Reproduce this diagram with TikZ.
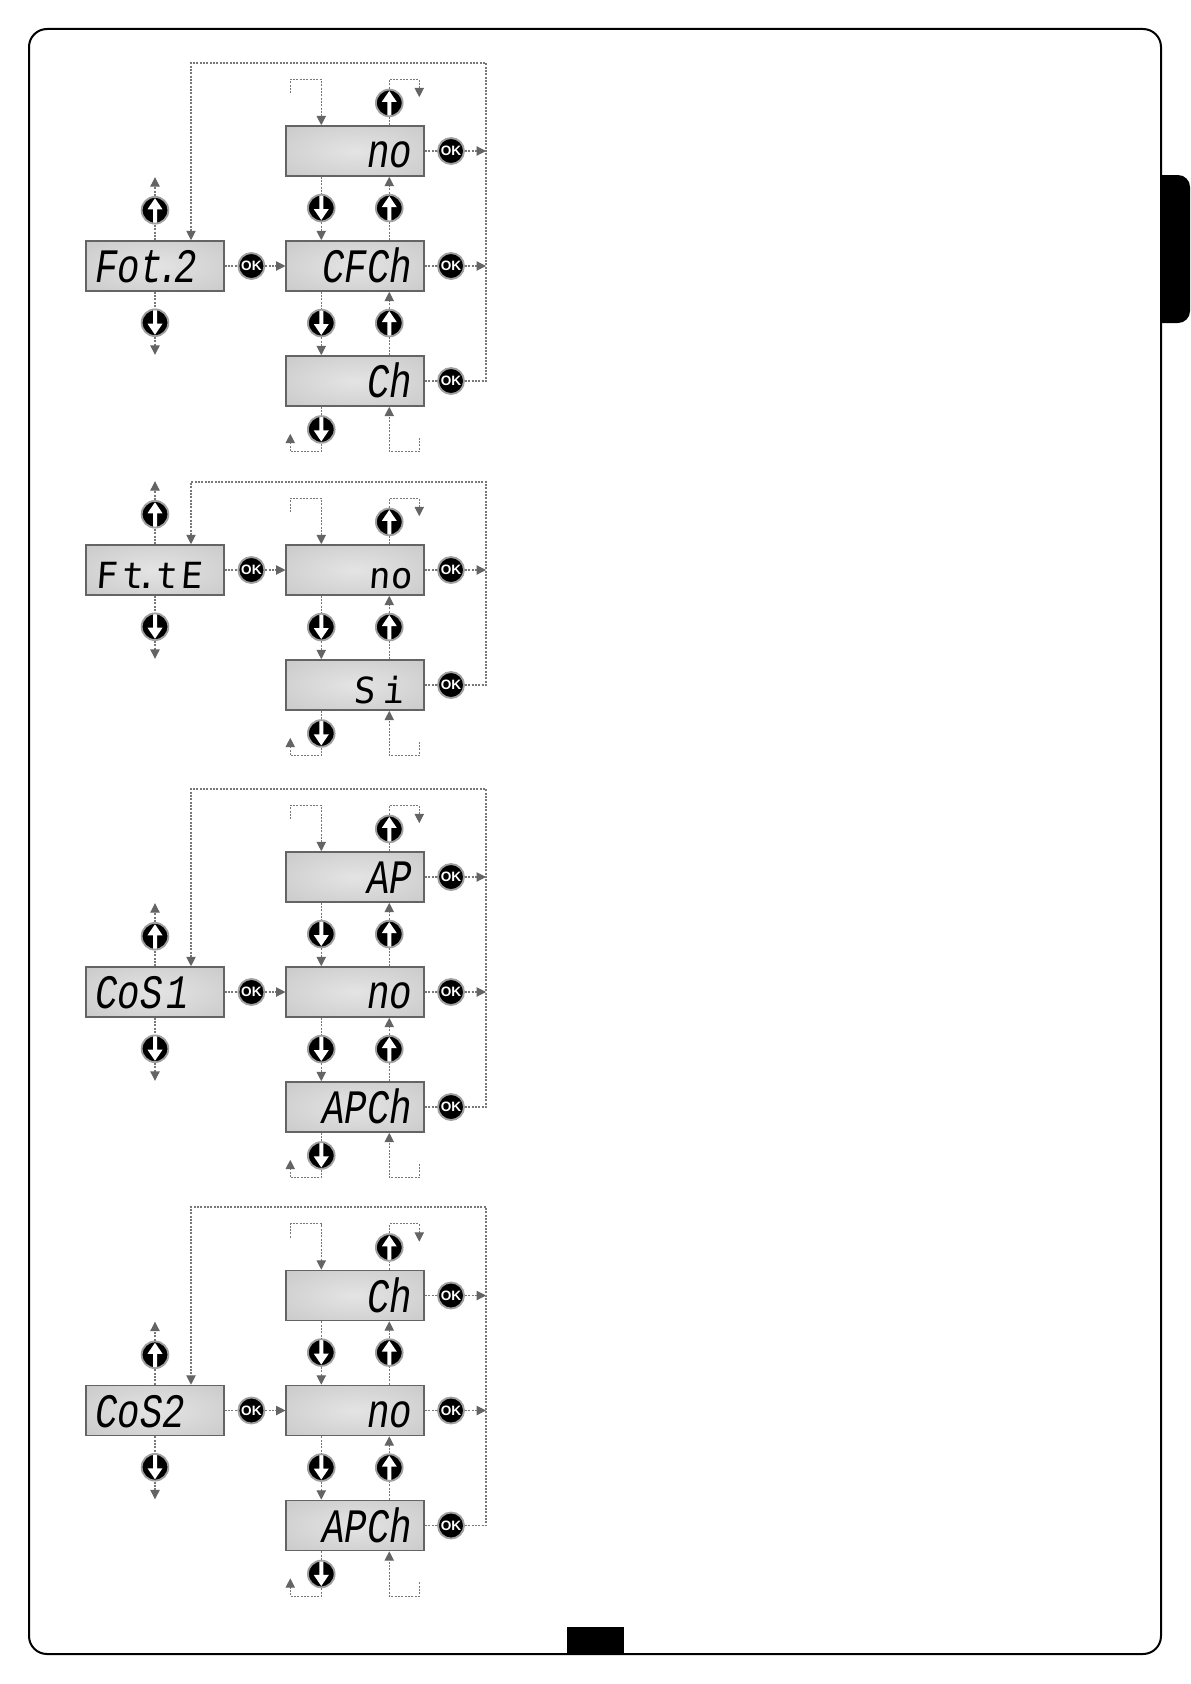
\documentclass[tikz,border=0pt]{standalone}
\usepackage{fontspec}
\setmainfont{Liberation Sans}
\newfontfamily\lcdfont{Liberation Mono}[FakeStretch=0.78]
\newfontfamily\lcdwidefont{DejaVu Sans Mono}[FakeSlant=0.08]
\usetikzlibrary{arrows.meta,positioning}
\definecolor{lcdlight}{RGB}{228,228,228}
\definecolor{lcddark}{RGB}{192,192,192}
\definecolor{lcdedge}{RGB}{100,100,100}
\definecolor{flowgray}{RGB}{120,120,120}
\definecolor{tipgray}{RGB}{100,100,100}
\definecolor{ringgray}{RGB}{160,160,160}
\pgfdeclareradialshading{lcdshade}{\pgfpoint{0bp}{0bp}}{color(0bp)=(lcdlight); color(50bp)=(lcddark); color(100bp)=(lcddark)}
\newcommand{\lcdface}{\lcdfont\itshape\fontsize{36}{36}\selectfont}
\newcommand{\lcdwide}[1]{\raisebox{-1.5pt}{\lcdwidefont\upshape\fontsize{27}{27}\selectfont #1}}
% left box with its up and down keys
\newcommand{\paramhead}[3]{
  \node[parbox] (#1) at (155,#2) {#3};
  \node[upbtn, above=11.75pt of #1] (#1up) {};
  \node[dnbtn, below=12.5pt of #1] (#1dn) {};
  \coordinate (#1upend) at ([shift={(0,-63)}]#1.north);
  \coordinate (#1dnend) at ([shift={(0,63)}]#1.south);
  \draw[flow] (#1) -- (#1up);
  \draw[flow] (#1) -- (#1dn);
  \draw[flowtip] (#1up) -- (#1upend);
  \draw[flowtip] (#1dn) -- (#1dnend);
  \node[okbtn, right=9.5pt of #1] (#1ok) {OK};
  \draw[flow] (#1) -- (#1ok);
}
% OK key right of a value box
\newcommand{\okrow}[1]{
  \node[okbtn, right=9pt of #1] (#1ok) {OK};
  \draw[flow] (#1) -- (#1ok);
}
\newcommand{\okout}[1]{
  \coordinate (#1out) at ([shift={(35,0)}]#1ok);
  \draw[flowtip] (#1ok) -- (#1out);
}
% down and up keys between two value boxes
\newcommand{\updown}[2]{
  \node[dnbtn, below=12.75pt of #1.south, xshift=-25.5pt] (#1dn) {};
  \node[upbtn, below=12.75pt of #1.south, xshift=25.5pt] (#2up) {};
  \draw[flow] (#1.south -| #1dn) -- (#1dn);
  \draw[flowtip] (#1dn) -- (#2.north -| #1dn);
  \draw[flow] (#2.north -| #2up) -- (#2up);
  \draw[flowtip] (#2up) -- (#1.south -| #2up);
}
% wrap-around above the first value box
\newcommand{\topcap}[1]{
  \node[upbtn, above=6pt of #1.north, xshift=25.5pt] (#1up) {};
  \coordinate (#1a) at ([shift={(-65,-32)}]#1.north);
  \coordinate (#1b) at ([shift={(-34,-46)}]#1.north);
  \coordinate (#1c) at ([shift={(64,-46)}]#1.north);
  \coordinate (#1d) at ([shift={(64,-28)}]#1.north);
  \draw[flowtip] (#1a) |- (#1b) -- (#1b |- #1.north);
  \draw[flow] (#1.north -| #1up) -- (#1up);
  \draw[flowtip] (#1up) |- (#1c) -- (#1d);
}
% wrap-around below the last value box
\newcommand{\bottomcap}[1]{
  \node[dnbtn, below=6.3pt of #1.south, xshift=-25.5pt] (#1dn) {};
  \coordinate (#1e) at ([shift={(64,31)}]#1.south);
  \coordinate (#1f) at ([shift={(34,45)}]#1.south);
  \coordinate (#1g) at ([shift={(-65,45)}]#1.south);
  \coordinate (#1h) at ([shift={(-65,27)}]#1.south);
  \draw[flowtip] (#1e) |- (#1f) -- (#1f |- #1.south);
  \draw[flow] (#1.south -| #1dn) -- (#1dn);
  \draw[flowtip] (#1dn) |- (#1g) -- (#1h);
}
% return line from the last OK key to the head box
\newcommand{\backloop}[3]{
  \coordinate (#1ne) at (486,#3);
  \coordinate (#1nw) at (191,#3);
  \draw[flowtip] (#2ok) -| (#1ne) -- (#1nw) -- (#1nw |- #1.north);
}
\begin{document}
\begin{tikzpicture}[
  x=0.75pt, y=-0.75pt,
  lcdbox/.style={draw=lcdedge, line width=1.2pt, shading=lcdshade, font=\lcdface,
                 minimum height=37.5pt, inner ysep=0pt,
                 text height=24.75pt, text depth=0pt},
  parbox/.style={lcdbox, text width=89.5pt, inner xsep=7pt, align=left},
  valbox/.style={lcdbox, text width=85.5pt, inner xsep=9pt, align=right},
  btn/.style={circle, fill=black, draw=ringgray, line width=1.4pt, minimum size=20pt, inner sep=0pt},
  upbtn/.style={btn, path picture={
    \fill[white, shift={(path picture bounding box.center)}]
      (-2,13) -- (-2,-1) -- (-7.5,-1) -- (0,-12) -- (7.5,-1) -- (2,-1) -- (2,13) -- cycle;}},
  dnbtn/.style={btn, path picture={
    \fill[white, shift={(path picture bounding box.center)}]
      (-2,-13) -- (-2,1) -- (-7.5,1) -- (0,12) -- (7.5,1) -- (2,1) -- (2,-13) -- cycle;}},
  okbtn/.style={btn, minimum size=19.5pt, text=white, font=\fontsize{10.2}{10.2}\selectfont\bfseries},
  flow/.style={flowgray, line width=0.8pt, dash pattern=on 1.5pt off 1pt},
  flowtip/.style={flow, -{Triangle[length=7pt,width=7pt,color=tipgray]}},
]
\useasboundingbox (0,0) rectangle (1191,1684);
% page frame, tab and page number patch
\fill[black, rounded corners=9pt] (1161,175) -- (1190,175) -- (1190,323) -- (1161,323);
\draw[black, line width=1.5pt, rounded corners=13.5pt] (29,29) rectangle (1161,1654);
\fill[black] (567,1627) rectangle (624,1654);

% Fot.2
\paramhead{fot}{266}{Fot\kern-4pt.\kern-4pt 2}
\node[valbox, right=45.5pt of fot] (fotb) {CFCh};
\node[valbox, above=47.55pt of fotb] (fota) {no};
\node[valbox, below=47.55pt of fotb] (fotc) {Ch};
\draw[flowtip] (fotok) -- (fotb);
\okrow{fota} \okout{fota}
\okrow{fotb} \okout{fotb}
\okrow{fotc}
\updown{fota}{fotb}
\updown{fotb}{fotc}
\topcap{fota}
\bottomcap{fotc}
\backloop{fot}{fotc}{63}

% Ft.tE
\paramhead{fte}{570}{\lcdwide{F\kern3.75pt t\kern-5.8pt.\kern-1.3pt t\kern2.5pt E}}
\node[valbox, right=45.5pt of fte] (ftea) {\lcdwide{no}};
\node[valbox, below=47.55pt of ftea] (fteb) {\lcdwide{S\kern5.5pt i\kern6pt}};
\draw[flowtip] (fteok) -- (ftea);
\okrow{ftea} \okout{ftea}
\okrow{fteb}
\updown{ftea}{fteb}
\topcap{ftea}
\bottomcap{fteb}
\backloop{fte}{fteb}{482}

% CoS1
\paramhead{cosa}{992}{CoS\kern3pt 1}
\node[valbox, right=45.5pt of cosa] (cosab) {no};
\node[valbox, above=47.55pt of cosab] (cosaa) {AP};
\node[valbox, below=47.55pt of cosab] (cosac) {APCh};
\draw[flowtip] (cosaok) -- (cosab);
\okrow{cosaa} \okout{cosaa}
\okrow{cosab} \okout{cosab}
\okrow{cosac}
\updown{cosaa}{cosab}
\updown{cosab}{cosac}
\topcap{cosaa}
\bottomcap{cosac}
\backloop{cosa}{cosac}{789}

% CoS2
\paramhead{cosb}{1410.5}{CoS2}
\node[valbox, right=45.5pt of cosb] (cosbb) {no};
\node[valbox, above=47.55pt of cosbb] (cosba) {Ch};
\node[valbox, below=47.55pt of cosbb] (cosbc) {APCh};
\draw[flowtip] (cosbok) -- (cosbb);
\okrow{cosba} \okout{cosba}
\okrow{cosbb} \okout{cosbb}
\okrow{cosbc}
\updown{cosba}{cosbb}
\updown{cosbb}{cosbc}
\topcap{cosba}
\bottomcap{cosbc}
\backloop{cosb}{cosbc}{1207}
\end{tikzpicture}
\end{document}
